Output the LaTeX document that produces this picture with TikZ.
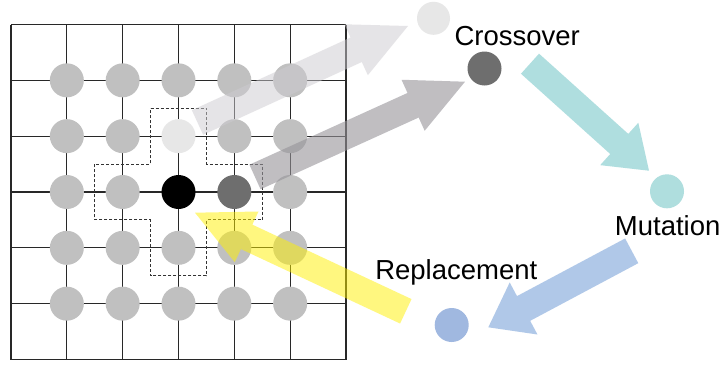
\documentclass[tikz,border=0pt]{standalone}
\usepackage{fontspec}
\setmainfont{Liberation Sans}
\usetikzlibrary{calc}
\definecolor{cellgray}{RGB}{192,192,192}
\definecolor{lightcell}{RGB}{231,231,231}
\definecolor{darkcell}{RGB}{110,110,110}
\definecolor{tealcell}{RGB}{175,222,222}
\definecolor{bluecell}{RGB}{160,184,224}
\definecolor{lightarrow}{RGB}{205,203,208}
\definecolor{darkarrow}{RGB}{150,147,153}
\definecolor{yellowarrow}{RGB}{255,240,0}
\definecolor{tealarrow}{RGB}{175,222,223}
\definecolor{bluearrow}{RGB}{176,200,232}
\definecolor{gridcol}{RGB}{40,40,40}
% #1 tail, #2 tip, #3 half shaft width, #4 half head width, #5 head length, #6 fill style
\newcommand\blockarrow[6]{%
  \path ($(#2)!#5!(#1)$) coordinate (arrbase);
  \fill[#6] ($(#1)!#3!90:(#2)$) -- ($(arrbase)!#3!90:(#2)$) -- ($(arrbase)!#4!90:(#2)$)
    -- (#2) -- ($(arrbase)!#4!-90:(#2)$) -- ($(arrbase)!#3!-90:(#2)$) -- ($(#1)!#3!-90:(#2)$) -- cycle;
}
\tikzset{
  gridline/.style={draw=gridcol, line width=1.25pt},
  cell/.style={circle, inner sep=0pt, minimum size=34pt, draw=none},
  crossline/.style={draw=black!80, line width=1.1pt, dash pattern=on 3pt off 2pt},
  lbl/.style={inner sep=0pt, font=\fontsize{27.5pt}{31pt}\selectfont, text=black},
}
\begin{document}
\begin{tikzpicture}[x=1pt, y=-1pt]
\useasboundingbox (0,0) rectangle (725,367);
\fill[white] (0,0) rectangle (725,367);
% grid
\foreach \k in {0,...,6} {
  \draw[gridline] (11+\k*55.833,24.5) -- (11+\k*55.833,359.5);
  \draw[gridline] (11,24.5+\k*55.833) -- (346,24.5+\k*55.833);
}
% cells
\foreach \i in {1,...,5} {
  \foreach \j in {1,...,5} {
    \def\cellcol{cellgray}
    \ifnum\i=3 \ifnum\j=2 \def\cellcol{lightcell}\fi\fi
    \ifnum\i=3 \ifnum\j=3 \def\cellcol{black}\fi\fi
    \ifnum\i=4 \ifnum\j=3 \def\cellcol{darkcell}\fi\fi
    \node[cell, fill=\cellcol] (c\i\j) at (11+\i*55.833,24.5+\j*55.833) {};
  }
}
% neighbourhood outline
\draw[crossline] (150.6,108.25) -- (206.4,108.25) -- (206.4,164.1) -- (262.25,164.1)
  -- (262.25,219.9) -- (206.4,219.9) -- (206.4,275.75) -- (150.6,275.75)
  -- (150.6,219.9) -- (94.75,219.9) -- (94.75,164.1) -- (150.6,164.1) -- cycle;
% operator circles
\node[cell, fill=lightcell, minimum size=33pt] (parentA) at (433.5,18.3) {};
\node[cell, fill=darkcell] (parentB) at (484.5,68.5) {};
\node[cell, fill=tealcell] (mutant) at (667,191.3) {};
\node[cell, fill=bluecell] (child) at (451.7,325) {};
% labels
\node[lbl, anchor=base west] (crosslbl) at (454.3,45) {Crossover};
\node[lbl, anchor=base west] (mutlbl) at (614.7,235) {Mutation};
\node[lbl, anchor=base west] (replbl) at (375.1,279) {Replacement};
% arrow end points
\coordinate (lightT) at (197.5,122.5);
\coordinate (lightH) at (408,26);
\coordinate (darkT) at (255,177);
\coordinate (darkH) at (465,81.7);
\coordinate (yelT) at (405.8,311.3);
\coordinate (yelH) at (195,212.7);
\coordinate (tealT) at (530,63.7);
\coordinate (tealH) at (649,170.7);
\coordinate (blueT) at (631.7,250.8);
\coordinate (blueH) at (488.3,327.3);
% arrows
\blockarrow{lightT}{lightH}{13.5pt}{28pt}{57pt}{lightarrow, fill opacity=0.5}
\blockarrow{darkT}{darkH}{13.5pt}{28pt}{57pt}{darkarrow, fill opacity=0.6}
\blockarrow{yelT}{yelH}{13.5pt}{28pt}{57pt}{yellowarrow, fill opacity=0.5}
\blockarrow{tealT}{tealH}{13.5pt}{28.5pt}{40pt}{tealarrow}
\blockarrow{blueT}{blueH}{14pt}{29.5pt}{40pt}{bluearrow}
\end{tikzpicture}
\end{document}
